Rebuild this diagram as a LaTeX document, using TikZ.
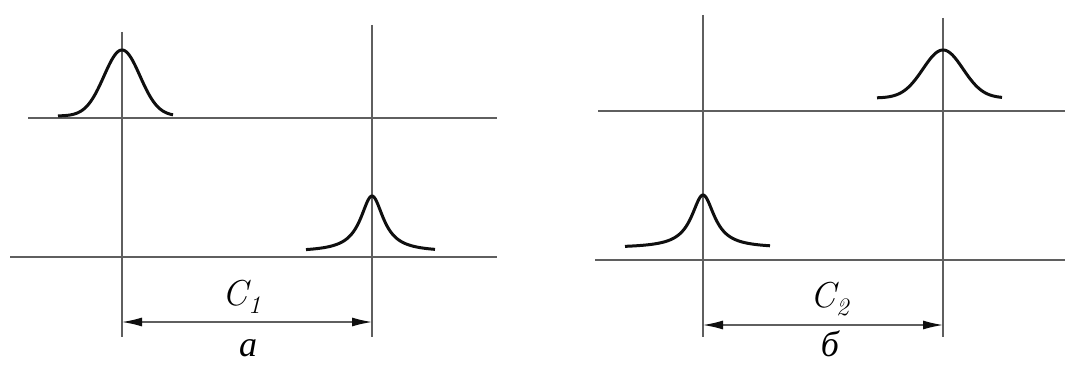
\documentclass[tikz,border=0pt]{standalone}
\usepackage{fontspec}
\newfontfamily\cyrserif{Liberation Serif}
\usetikzlibrary{arrows.meta}
\definecolor{PlotAxis}{RGB}{95,95,95}
\definecolor{PlotInk}{RGB}{15,15,15}

\tikzset{
  baseaxis/.style={PlotAxis, line width=1.3pt},
  guide/.style={PlotAxis, line width=1.2pt},
  peak/.style={PlotInk, line width=3pt, smooth},
  dimline/.style={PlotAxis, line width=1.3pt,
    {Latex[length=20pt,width=9pt,color=PlotInk]}-{Latex[length=20pt,width=9pt,color=PlotInk]}},
  dimlabel/.style={font=\fontsize{36}{40}\selectfont, inner sep=0pt},
}

\begin{document}
\begin{tikzpicture}[x=1pt,y=1pt]
  \path[use as bounding box] (0,0) rectangle (1065,365);
  \fill[white] (0,0) rectangle (1065,365);

  % panel a
  \draw[baseaxis] (28,247) -- (497,247);
  \draw[baseaxis] (10,108) -- (497,108);
  \coordinate (a1top) at (122,333);
  \coordinate (a1bot) at (122,28);
  \coordinate (a2top) at (372,340);
  \coordinate (a2bot) at (372,28);
  \draw[guide] (a1top) -- (a1bot);
  \draw[guide] (a2top) -- (a2bot);
  \draw[peak] plot[domain=58:173, samples=116] (\x, {249 + 66*exp(-((\x-122)^2)/(2*18^2))});
  \draw[peak] plot[domain=306:435, samples=130] (\x, {113 + 56/(1+((\x-372)/14)^2)});
  \coordinate (a1dim) at (122,43);
  \coordinate (a2dim) at (372,43);
  \draw[dimline] (a1dim) -- (a2dim);
  \node[dimlabel] (c1) at (242,68) {\itshape C\textsubscript{1}};
  \node[dimlabel, anchor=base] (alab) at (248,9) {\cyrserif\itshape а};

  % panel b
  \draw[baseaxis] (598,254) -- (1065,254);
  \draw[baseaxis] (595,105) -- (1065,105);
  \coordinate (b1top) at (703,350);
  \coordinate (b1bot) at (703,28);
  \coordinate (b2top) at (943,347);
  \coordinate (b2bot) at (943,28);
  \draw[guide] (b1top) -- (b1bot);
  \draw[guide] (b2top) -- (b2bot);
  \draw[peak] plot[domain=877:1002, samples=126] (\x, {267 + 48*exp(-((\x-943)^2)/(2*20^2))});
  \draw[peak] plot[domain=625:770, samples=146] (\x, {117 + 53/(1+((\x-703)/14)^2)});
  \coordinate (b1dim) at (703,40);
  \coordinate (b2dim) at (943,40);
  \draw[dimline] (b1dim) -- (b2dim);
  \node[dimlabel] (c2) at (830,66) {\itshape C\textsubscript{2}};
  \node[dimlabel, anchor=base] (blab) at (830,9) {\cyrserif\itshape б};
\end{tikzpicture}
\end{document}
